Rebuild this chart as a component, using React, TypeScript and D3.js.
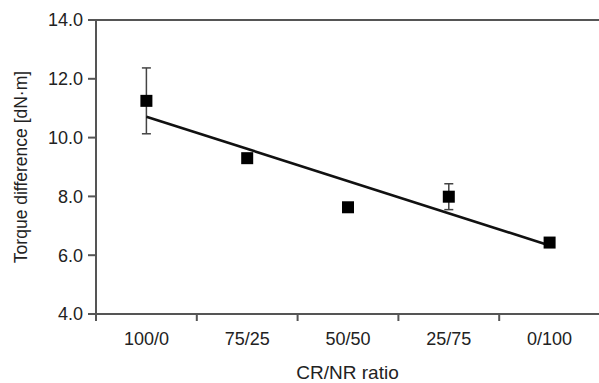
import * as d3 from "d3";

const ratios = ["100/0", "75/25", "50/50", "25/75", "0/100"];
const torque = [11.25, 9.3, 7.63, 7.99, 6.43];
const errors = [1.12, 0, 0, 0.44, 0];
const yTicks = [4, 6, 8, 10, 12, 14];

const W = 599;
const H = 383;
const m = { top: 20, right: -1, bottom: 69, left: 96 };

// least squares line through the means
function fitLine(ys: number[]) {
  const xs = ys.map((_, i) => i);
  const mx = d3.mean(xs) as number;
  const my = d3.mean(ys) as number;
  const sxy = d3.sum(xs, (x, i) => (x - mx) * (ys[i] - my));
  const sxx = d3.sum(xs, (x) => (x - mx) ** 2);
  const b = sxy / sxx;
  return (i: number) => my + b * (i - mx);
}

export default function App() {
  const x = d3.scaleBand().domain(ratios).range([m.left, W - m.right]).padding(0);
  const y = d3.scaleLinear().domain([4, 14]).range([H - m.bottom, m.top]);
  const cx = (c: string) => (x(c) as number) + x.bandwidth() / 2;
  const fit = fitLine(torque);
  const axis = "#555";
  const font = "'Liberation Sans', Arial, sans-serif";
  const y0 = y(4);

  return (
    <svg width={W} height={H} style={{ position: "absolute", left: 0, top: 0, background: "#fff" }} fontFamily={font}>
      {/* frame */}
      <line x1={m.left} x2={W} y1={m.top} y2={m.top} stroke={axis} strokeWidth={2} />
      <line x1={m.left} x2={m.left} y1={m.top} y2={y0} stroke={axis} strokeWidth={2} />
      <line x1={m.left - 1} x2={W} y1={y0} y2={y0} stroke={axis} strokeWidth={2} />

      {yTicks.map((t) => (
        <g key={t}>
          <line x1={m.left - 8} x2={m.left} y1={y(t)} y2={y(t)} stroke={axis} strokeWidth={2} />
          <text x={m.left - 13} y={y(t)} dy="0.36em" textAnchor="end" fontSize={18} fill="#222">
            {t.toFixed(1)}
          </text>
        </g>
      ))}

      {ratios.map((c) => (
        <g key={c}>
          <line x1={x(c)} x2={x(c)} y1={y0} y2={y0 + 7} stroke={axis} strokeWidth={2} />
          <text x={cx(c)} y={y0 + 31} textAnchor="middle" fontSize={18} fill="#222">
            {c}
          </text>
        </g>
      ))}

      <text x={(m.left + W) / 2} y={H - 4} textAnchor="middle" fontSize={19} fill="#222">
        CR/NR ratio
      </text>
      <text
        transform={`translate(27,${(m.top + y0) / 2}) rotate(-90)`}
        textAnchor="middle"
        fontSize={17.5}
        fill="#222"
      >
        Torque difference [dN·m]
      </text>

      {/* error bars */}
      {ratios.map((c, i) =>
        errors[i] > 0 ? (
          <g key={c} stroke="#444" strokeWidth={1.5}>
            <line x1={cx(c)} x2={cx(c)} y1={y(torque[i] + errors[i])} y2={y(torque[i] - errors[i])} />
            <line x1={cx(c) - 4.5} x2={cx(c) + 4.5} y1={y(torque[i] + errors[i])} y2={y(torque[i] + errors[i])} />
            <line x1={cx(c) - 4.5} x2={cx(c) + 4.5} y1={y(torque[i] - errors[i])} y2={y(torque[i] - errors[i])} />
          </g>
        ) : null
      )}

      {/* trend line */}
      <line
        x1={cx(ratios[0])}
        x2={cx(ratios[ratios.length - 1])}
        y1={y(fit(0))}
        y2={y(fit(ratios.length - 1))}
        stroke="#111"
        strokeWidth={2.6}
      />

      {ratios.map((c, i) => (
        <rect key={c} x={cx(c) - 6} y={y(torque[i]) - 6} width={12} height={12} fill="#000" />
      ))}
    </svg>
  );
}
